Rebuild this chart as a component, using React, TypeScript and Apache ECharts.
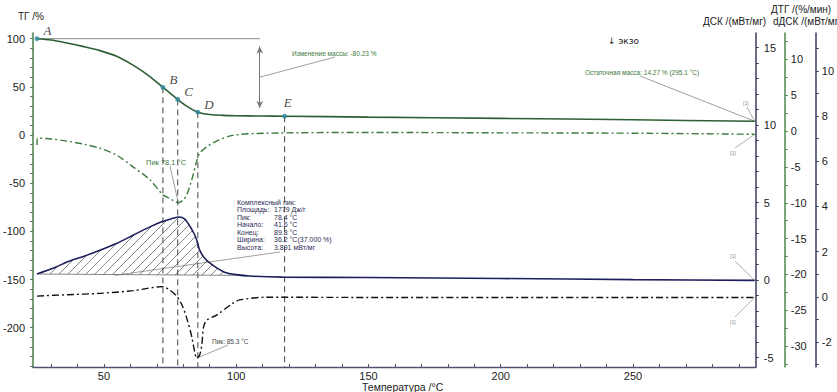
import React, { useEffect, useRef } from "react";
import * as echarts from "echarts";

// ---------- data ----------
const tgT = [24.7, 30, 36, 42, 48.5, 55, 61, 67, 72.3, 75, 77.9, 81, 85.5, 90, 95, 100, 110, 118.3, 150, 200, 250, 296];
const tgV = [100, 98.6, 95.5, 92, 87.6, 81.5, 72.5, 61.5, 49.5, 43.5, 37, 30.5, 23.7, 21.3, 20.4, 20, 19.7, 19.5, 18.6, 17.3, 15.8, 14.27];

const dtgT = [24.7, 24.8, 30, 36, 42, 48.5, 55, 61, 67.4, 72.3, 74.9, 78.1, 80, 81.3, 83.2, 85, 86.2, 88.9, 92.6, 98.7, 111.5, 150, 200, 250, 296];
const dtgV = [-1.95, -0.98, -1.1, -1.4, -1.8, -2.4, -3.4, -5.0, -6.8, -8.9, -9.4, -10.0, -9.6, -8.9, -6.8, -4.3, -3.1, -2.2, -1.4, -0.6, -0.3, -0.2, -0.25, -0.3, -0.45];

const dscT = [24.7, 31.9, 36, 42, 48.5, 55, 61, 67.4, 72.3, 75.5, 78.4, 80.5, 82.5, 84, 85.1, 86.2, 88.1, 91.1, 95.6, 100, 105, 117.5, 150, 200, 250, 296];
const dscV = [0.39, 0.84, 1.16, 1.51, 1.93, 2.38, 2.89, 3.43, 3.79, 3.95, 4.07, 3.95, 3.47, 3.02, 2.57, 1.93, 1.41, 0.96, 0.51, 0.35, 0.26, 0.19, 0.16, 0.1, 0.03, -0.02];

const ddscT = [24.7, 36, 48.5, 61, 72.3, 74.2, 77.5, 79.8, 81.7, 83.2, 84.3, 85.1, 86.2, 87, 87.7, 88.9, 92.6, 98.7, 101.3, 111.5, 150, 200, 250, 296];
const ddscV = [0.03, 0.09, 0.15, 0.27, 0.45, 0.35, 0.03, -0.44, -1.1, -1.77, -2.43, -2.72, -2.58, -2.13, -1.32, -1.03, -0.81, -0.29, -0.14, -0.02, -0.03, -0.03, -0.03, -0.03];

const pointNames = ["A", "B", "C", "D", "E"];
const pointT = [24.7, 72.3, 77.9, 85.5, 118.3];
const pointTG = [100, 49.5, 37, 23.7, 19.5];

const xTickLabels = [50, 100, 150, 200, 250];
const tgTickLabels = [100, 50, 0, -50, -100, -150, -200];
const dscTickLabels = [15, 10, 5, 0, -5];
const dtgTickLabels = [10, 5, 0, -5, -10, -15, -20, -25, -30];
const ddscTickLabels = [10, 8, 6, 4, 2, 0, -2];

const hatchBaseT = [24.7, 103];
const hatchBaseV = [0.39, 0.3];

const massChangeT = 108.9;
const massChangeFrom = 92;
const massChangeTo = 28;

const peakInfoLabels = ["Комплексный пик:", "Площадь:", "Пик:", "Начало:", "Конец:", "Ширина:", "Высота:"];
const peakInfoValues = ["", "1779 Дж/г", "78.4 °C", "41.6 °C", "89.8 °C", "36.2 °C(37.000 %)", "3.891 мВт/мг"];

// axis ranges
const xRange = [23.2, 296.4];
const tgRange = [-240.8, 105.9];
const dscRange = [-5.61, 15.94];
const dtgRange = [-32.9, 13.67];
const ddscRange = [-3.11, 11.68];

const FONT = "Liberation Sans";
const cTG = "#2c5f34";
const cDTG = "#3e7a3e";
const cDSC = "#1c1f5c";
const cDDSC = "#111111";
const cAnnGreen = "#3d7a3d";

function stepVals(lo: number, hi: number, step: number) {
  const out: number[] = [];
  const start = Math.ceil(lo / step) * step;
  for (let v = start; v <= hi + 1e-9; v += step) out.push(Math.round(v * 1000) / 1000);
  return out;
}

function yAx(range: number[], labels: number[], tickStep: number, color: string, position: string, offset: number, margin: number) {
  return {
    type: "value",
    min: range[0],
    max: range[1],
    position,
    offset,
    axisLine: { show: true, onZero: false, lineStyle: { color, width: 1.5 } },
    axisTick: { show: true, customValues: stepVals(range[0], range[1], tickStep), length: 3, lineStyle: { color, width: 1 } },
    axisLabel: { show: true, customValues: labels, color: "#222", fontSize: 11, fontFamily: FONT, margin },
    splitLine: { show: false },
    minorTick: { show: false },
  };
}

const zip = (a: number[], b: number[]) => a.map((v, i) => [v, b[i]]);

export default function App() {
  const ref = useRef<HTMLDivElement>(null);
  useEffect(() => {
    const chart = echarts.init(ref.current!, null, { renderer: "svg" });
    const dashDot = [7, 3, 2, 3];

    const vertSeries = pointT.slice(1).map((t, i) => ({
      type: "line",
      yAxisIndex: 0,
      data: [[t, pointTG[i + 1]], [t, tgRange[0]]],
      symbol: "none",
      lineStyle: { color: "#444", width: 1, type: [6, 4] },
      silent: true,
      z: 1,
    }));

    const option: any = {
      animation: false,
      backgroundColor: "#fff",
      grid: { left: 33, right: 80, top: 33, bottom: 25, containLabel: false },
      xAxis: {
        type: "value",
        min: xRange[0],
        max: xRange[1],
        axisLine: { show: true, onZero: false, lineStyle: { color: "#4d5070", width: 1.3 } },
        axisTick: { show: true, inside: true, length: 3, customValues: stepVals(xRange[0], xRange[1], 10), lineStyle: { color: "#4d5070" } },
        axisLabel: { customValues: xTickLabels, color: "#222", fontSize: 11, fontFamily: FONT, margin: 3 },
        splitLine: { show: false },
      },
      yAxis: [
        yAx(tgRange, tgTickLabels, 10, "#4a7f4a", "left", 0, 8),
        yAx(dscRange, dscTickLabels, 1, "#3b3d5e", "right", 0, 8),
        yAx(dtgRange, dtgTickLabels, 2.5, "#4c8a4c", "right", 29, 6),
        yAx(ddscRange, ddscTickLabels, 1, "#3b3d5e", "right", 60, 6),
      ],
      series: [
        {
          type: "custom",
          coordinateSystem: "cartesian2d",
          xAxisIndex: 0,
          yAxisIndex: 1,
          silent: true,
          z: 1,
          data: [[50, 1]],
          renderItem: (_params: any, api: any) => {
            const pts: number[][] = [];
            for (let i = 0; i < dscT.length; i++) {
              if (dscT[i] >= hatchBaseT[0] && dscT[i] <= hatchBaseT[1]) pts.push(api.coord([dscT[i], dscV[i]]));
            }
            const b0 = api.coord([hatchBaseT[0], hatchBaseV[0]]);
            const b1 = api.coord([hatchBaseT[1], hatchBaseV[1]]);
            const poly = [...pts, b1, b0];
            let cmin = Infinity, cmax = -Infinity;
            poly.forEach((p) => { const c = p[0] + p[1]; if (c < cmin) cmin = c; if (c > cmax) cmax = c; });
            const step = 9;
            const children: any[] = [];
            for (let c = Math.ceil(cmin / step) * step; c < cmax; c += step) {
              const xs: number[][] = [];
              for (let i = 0; i < poly.length; i++) {
                const p = poly[i], q = poly[(i + 1) % poly.length];
                const f1 = p[0] + p[1] - c, f2 = q[0] + q[1] - c;
                if ((f1 < 0) !== (f2 < 0)) {
                  const t = f1 / (f1 - f2);
                  xs.push([p[0] + t * (q[0] - p[0]), p[1] + t * (q[1] - p[1])]);
                }
              }
              xs.sort((a, b) => a[0] - b[0]);
              for (let k = 0; k + 1 < xs.length; k += 2) {
                children.push({ type: "line", shape: { x1: xs[k][0], y1: xs[k][1], x2: xs[k + 1][0], y2: xs[k + 1][1] }, style: { stroke: "#555", lineWidth: 0.7 } });
              }
            }
            children.push({ type: "line", shape: { x1: b0[0], y1: b0[1], x2: b1[0], y2: b1[1] }, style: { stroke: "#666", lineWidth: 0.8 } });
            return { type: "group", children };
          },
        },
        ...vertSeries,
        {
          type: "line",
          yAxisIndex: 0,
          data: [[pointT[0], pointTG[0]], [massChangeT, pointTG[0]]],
          symbol: "none",
          lineStyle: { color: "#888", width: 1 },
          silent: true,
          z: 1,
          markLine: {
            silent: true,
            symbol: ["arrow", "arrow"],
            symbolSize: [5, 7],
            label: { show: false },
            lineStyle: { color: "#777", width: 1, type: "solid" },
            data: [[{ coord: [massChangeT, massChangeFrom] }, { coord: [massChangeT, massChangeTo] }]],
          },
        },
        {
          type: "line",
          yAxisIndex: 0,
          data: zip(tgT, tgV),
          smooth: 0.3,
          symbol: "none",
          lineStyle: { color: cTG, width: 1.6 },
          z: 3,
        },
        {
          type: "line",
          yAxisIndex: 2,
          data: zip(dtgT, dtgV),
          smooth: 0.3,
          symbol: "none",
          lineStyle: { color: cDTG, width: 1.4, type: dashDot },
          z: 3,
        },
        {
          type: "line",
          yAxisIndex: 1,
          data: zip(dscT, dscV),
          smooth: 0.25,
          symbol: "none",
          lineStyle: { color: cDSC, width: 1.6 },
          z: 3,
        },
        {
          type: "line",
          yAxisIndex: 3,
          data: zip(ddscT, ddscV),
          smooth: 0.3,
          symbol: "none",
          lineStyle: { color: cDDSC, width: 1.4, type: dashDot },
          z: 3,
        },
        {
          type: "scatter",
          yAxisIndex: 0,
          symbol: "circle",
          symbolSize: 5,
          itemStyle: { color: "#2b8a9c" },
          z: 5,
          data: pointNames.map((n, i) => ({
            value: [pointT[i], pointTG[i]],
            name: n,
            label: i === 4 ? { position: "top", offset: [3, 0] } : { position: "right", offset: [-1, -8] },
          })),
          label: {
            show: true,
            formatter: (p: any) => p.name,
            fontFamily: "Liberation Serif",
            fontStyle: "italic",
            fontSize: 13,
            color: "#111",
          },
        },
      ],
    };
    chart.setOption(option);

    const px = (ax: number, x: number, y: number) => chart.convertToPixel({ xAxisIndex: 0, yAxisIndex: ax }, [x, y]) as number[];
    const txt = (text: string, x: number, y: number, size: number, fill: string, extra: any = {}) => ({
      type: "text",
      x,
      y,
      silent: true,
      style: { text, fill, fontSize: size, fontFamily: FONT, textVerticalAlign: "middle", ...extra },
    });
    const ln = (a: number[], b: number[], stroke: string) => ({
      type: "line",
      silent: true,
      shape: { x1: a[0], y1: a[1], x2: b[0], y2: b[1] },
      style: { stroke, lineWidth: 0.8 },
    });

    const last = (arr: number[]) => arr[arr.length - 1];
    const massMid = px(0, massChangeT, (massChangeFrom + massChangeTo) / 2);
    const tgEnd = px(0, last(tgT), last(tgV));
    const dtgEnd = px(2, last(dtgT), last(dtgV));
    const dscEnd = px(1, last(dscT), last(dscV));
    const ddscEnd = px(3, last(ddscT), last(ddscV));
    const dtgPeak = px(2, 78.1, -10.0);
    const ddscPeak = px(3, 85.1, -2.72);
    const heightAnchor = px(1, 54, 0.3);

    const graphics: any[] = [
      txt("ТГ /%", 18, 16, 10, "#222"),
      txt("ДТГ /(%/мин)", 771, 9, 10, "#222"),
      txt("ДСК /(мВт/мг)", 703, 21, 10, "#222"),
      txt("dДСК /(мВт/мг)", 773, 21, 10, "#222"),
      txt("↓ экзо", 608, 41, 9, "#222", { fontFamily: "DejaVu Sans" }),
      txt("Температура /°C", 362, 386.5, 10.5, "#222"),
      txt("Изменение массы: -80.23 %", 292, 53, 6.5, cAnnGreen),
      ln(massMid, [335, 57], "#888"),
      txt("Остаточная масса: 14.27 % (295.1 °C)", 585, 72, 6.5, cAnnGreen),
      ln([640, 76], tgEnd, "#888"),
      txt("[1]", 743, 103, 5, "#888"),
      ln([747, 107], tgEnd, "#999"),
      txt("[1]", 730, 153, 5, "#888"),
      ln([735, 148], dtgEnd, "#999"),
      txt("[1]", 730, 256, 5, "#888"),
      ln([735, 261], dscEnd, "#999"),
      txt("[1]", 730, 322, 5, "#888"),
      ln([735, 317], ddscEnd, "#999"),
      txt("Пик 78.1 °C", 146, 162, 7.5, cAnnGreen),
      ln([170, 166], dtgPeak, "#888"),
      txt("Пик: 85.3 °C", 212, 341, 6.5, "#444"),
      ln([228, 345], ddscPeak, "#888"),
      ln([280, 252], heightAnchor, "#888"),
    ];
    peakInfoLabels.forEach((l, i) => {
      graphics.push(txt(l, 237, 202 + i * 7.5, 7, "#2b2b55"));
      if (peakInfoValues[i]) graphics.push(txt(peakInfoValues[i], 274, 202 + i * 7.5, 7, "#2b2b55"));
    });
    chart.setOption({ graphic: graphics });

    return () => chart.dispose();
  }, []);
  return <div ref={ref} style={{ position: "fixed", left: 0, top: 0, width: 837, height: 392, background: "#fff" }} />;
}
